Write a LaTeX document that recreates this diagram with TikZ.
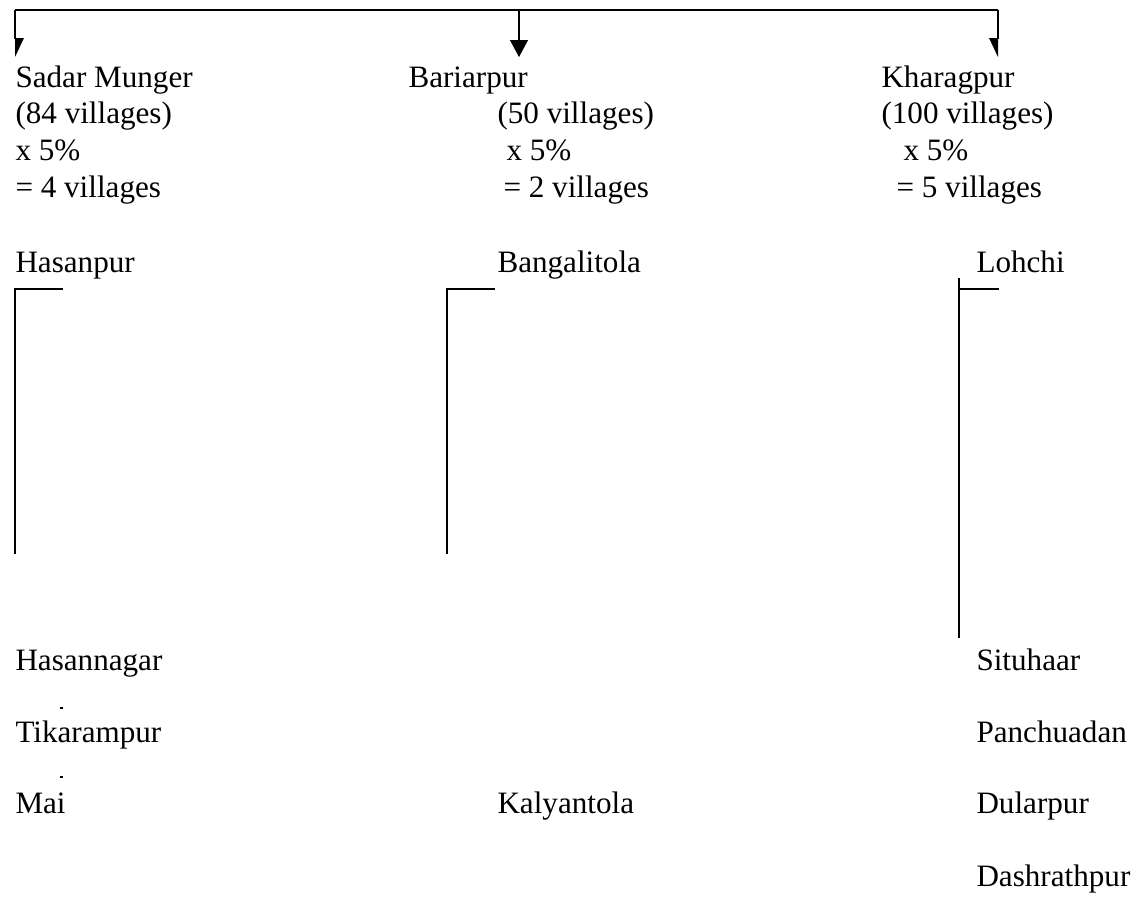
\documentclass[tikz,border=0pt]{standalone}
\usepackage{fontspec}
\setmainfont{Liberation Serif}
\usetikzlibrary{arrows.meta,positioning,calc}

\begin{document}
\begin{tikzpicture}[x=0.4pt, y=-0.4pt, font=\fontsize{12.45pt}{14.6pt}\selectfont, >={Triangle[length=6.8pt,width=7.2pt]},
  every node/.style={inner sep=0pt, anchor=base west},
  thin link/.style={line width=0.45pt},
  link/.style={line width=0.75pt}]
  \useasboundingbox (0,0) rectangle (1145,896);

  % Blocks
  \node (SM)  at (15,87)  {Sadar Munger};
  \node (SMv) at (15,123) {(84 villages)};
  \node (SMp) at (15,160) {x 5\%};
  \node (SMr) at (15,197) {= 4 villages};

  \node (BA)  at (408,87)  {Bariarpur};
  \node (BAv) at (497,123) {(50 villages)};
  \node (BAp) at (506,160) {x 5\%};
  \node (BAr) at (503,197) {= 2 villages};

  \node (KH)  at (881,87)  {Kharagpur};
  \node (KHv) at (881,123) {(100 villages)};
  \node (KHp) at (903,160) {x 5\%};
  \node (KHr) at (896,197) {= 5 villages};

  % Villages
  \node (Hasanpur)    at (15,272)  {Hasanpur};
  \node (Hasannagar)  at (15,670)  {Hasannagar};
  \node (Tikarampur)  at (15,742)  {Tikarampur};
  \node (Mai)         at (15,813)  {Mai};

  \node (Bangalitola) at (497,272) {Bangalitola};
  \node (Kalyantola)  at (497,813) {Kalyantola};

  \node (Lohchi)      at (976,272) {Lohchi};
  \node (Situhaar)    at (976,670) {Situhaar};
  \node (Panchuadan)  at (976,742) {Panchuadan};
  \node (Dularpur)    at (976,813) {Dularpur};
  \node (Dashrathpur) at (976,886) {Dashrathpur};

  % Top bar and arrows
  \coordinate (topL) at (15,10);
  \coordinate (topM) at (519,10);
  \coordinate (topR) at (998,10);
  \coordinate (tipL) at (15,57);
  \coordinate (tipM) at (519,57);
  \coordinate (tipR) at (998,57);
  \draw[thin link] (topL) -- (topR);
  \draw[thin link, ->] (topM) -- (tipM);
  \draw[thin link] (topL) -- ($(tipL)+(0,-18)$);
  \fill ($(tipL)+(0,-19)$) -- ++(9,0) -- (tipL) -- cycle;
  \draw[thin link] (topR) -- ($(tipR)+(0,-18)$);
  \fill ($(tipR)+(0,-19)$) -- ++(-9,0) -- (tipR) -- cycle;

  % Brackets
  \coordinate (HaTop) at (15,289);
  \coordinate (HaEnd) at (63,289);
  \coordinate (HaBot) at (15,554);
  \draw[link] (HaEnd) -- (HaTop) -- (HaBot);

  \coordinate (BgTop) at (447,289);
  \coordinate (BgEnd) at (495,289);
  \coordinate (BgBot) at (447,554);
  \draw[link] (BgEnd) -- (BgTop) -- (BgBot);

  \coordinate (LoTop) at (959,278);
  \coordinate (LoMid) at (959,289);
  \coordinate (LoEnd) at (999,289);
  \coordinate (LoBot) at (959,638);
  \draw[link] (LoTop) -- (LoBot);
  \draw[link] (LoMid) -- (LoEnd);

  % stray ticks
  \coordinate (tickA) at (60,708);
  \coordinate (tickB) at (60,777);
  \draw[thin link] (tickA) -- ++(2.5,0);
  \draw[thin link] (tickB) -- ++(2.5,0);
\end{tikzpicture}
\end{document}
